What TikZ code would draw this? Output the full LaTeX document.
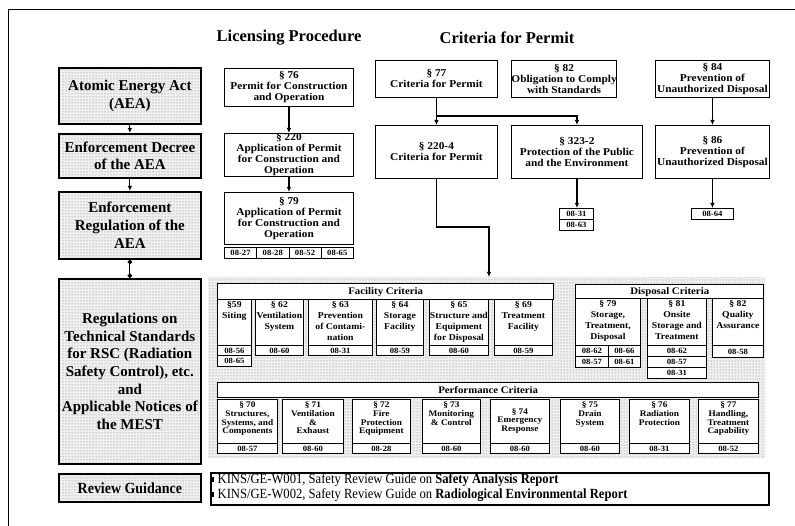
\documentclass[tikz,border=0pt]{standalone}
\usepackage{fontspec}
\setmainfont{Liberation Serif}
\newfontfamily\boxfamily{Liberation Serif}[FakeStretch=1.08]
\newfontfamily\narrowfamily{Liberation Serif}[FakeStretch=0.9]
\usetikzlibrary{patterns,arrows.meta}

\tikzset{
  stipple/.style={preaction={fill=black!6}, pattern=dots, pattern color=black!55},
  levelbox/.style={draw, line width=1.7pt, stipple, align=center,
    font=\bfseries\fontsize{15}{17.7}\selectfont},
  guidebox/.style={levelbox, font=\narrowfamily\bfseries\fontsize{15.5}{17}\selectfont},
  lawbox/.style={draw, line width=0.9pt, fill=white, align=center,
    font=\boxfamily\bfseries\fontsize{10.5}{11}\selectfont},
  codebox/.style={draw, line width=0.8pt, fill=white,
    font=\boxfamily\bfseries\fontsize{8}{8}\selectfont},
  headbar/.style={draw, line width=1.4pt, fill=white,
    font=\boxfamily\bfseries\fontsize{10}{10}\selectfont},
  critbox/.style={draw, line width=0.8pt, fill=white},
  crittext/.style={align=center, inner sep=0pt,
    font=\boxfamily\bfseries\fontsize{9}{10.8}\selectfont},
  perftext/.style={align=center, inner sep=0pt,
    font=\boxfamily\bfseries\fontsize{8.6}{8.8}\selectfont},
  arr/.style={line width=1.1pt, -{Latex[length=5pt,width=4.5pt]}},
  heading/.style={font=\bfseries\fontsize{16.5}{18}\selectfont, inner sep=0pt},
}

% box from (x1,y1) to (x2,y2), text centred
\newcommand\mkbox[7]{%
  \node[#6, anchor=north west, inner sep=0pt,
        minimum width={#4-#2}, minimum height={#5-#3}] (#1) at (#2,#3) {#7};}
% box from (x1,y1) to (x2,y2), text hung from the top edge
\newcommand\mktbox[8]{%
  \node[#6, anchor=north west, inner sep=0pt,
        minimum width={#4-#2}, minimum height={#5-#3}] (#1) at (#2,#3) {};
  \node[#7, anchor=north] (#1-t) at ([yshift=-2.5pt]#1.north) {#8};}

\begin{document}
\begin{tikzpicture}[x=1pt,y=-1pt]
\useasboundingbox (0,0) rectangle (795,526);
\fill[white] (0,0) rectangle (795,526);
\draw[line width=1pt] (8,526) -- (8,10) -- (795,10);

% column headings
\node[heading] (hlic) at (289,38) {Licensing Procedure};
\node[heading] (hcrit) at (507,38) {Criteria for Permit};

% legal hierarchy
\mkbox{aea}{58}{67}{200}{123}{levelbox}{Atomic Energy Act\\(AEA)}
\mkbox{dec}{58}{133}{200}{177}{levelbox}{Enforcement Decree\\of the AEA}
\mkbox{rega}{58}{191}{200}{258}{levelbox}{Enforcement\\Regulation of the\\AEA}
\mkbox{rules}{58}{278}{200}{463}{levelbox}{Regulations on\\Technical Standards\\for RSC (Radiation\\Safety Control), etc.\\and\\Applicable Notices of\\the MEST}
\mkbox{rg}{58}{473}{200}{501}{guidebox}{Review Guidance}

\draw[arr] (aea) -- (dec);
\draw[arr] (dec) -- (rega);
\draw[line width=1.1pt, {Circle[length=4.5pt]}-{Circle[length=4.5pt]}] (rega) -- (rules);

% licensing procedure
\mkbox{n76}{224}{68}{353}{106}{lawbox}{§ 76\\Permit for Construction\\and Operation}
\mkbox{n220}{224}{133}{353}{176}{lawbox}{§ 220\\Application of Permit\\for Construction and\\Operation}
\mkbox{n79}{224}{192}{353}{244}{lawbox}{§ 79\\Application of Permit\\for Construction and\\Operation}
\mkbox{lc1}{224}{247}{256.25}{258}{codebox}{08-27}
\mkbox{lc2}{256.25}{247}{288.5}{258}{codebox}{08-28}
\mkbox{lc3}{288.5}{247}{320.75}{258}{codebox}{08-52}
\mkbox{lc4}{320.75}{247}{353}{258}{codebox}{08-65}
\draw[arr] (n76) -- (n220);
\draw[arr] (n220) -- (n79);

% criteria for permit
\mkbox{n77}{375}{60}{497}{97}{lawbox}{§ 77\\Criteria for Permit}
\mkbox{n82}{511}{60}{612}{97}{lawbox}{§ 82\\Obligation to Comply\\with Standards}
\mkbox{n84}{655}{60}{769}{97}{lawbox}{§ 84\\Prevention of\\Unauthorized Disposal}
\mkbox{n2204}{375}{125}{497}{178}{lawbox}{§ 220-4\\Criteria for Permit}
\mkbox{n3232}{511}{125}{642}{178}{lawbox}{§ 323-2\\Protection of the Public\\and the Environment}
\mkbox{n86}{655}{125}{769}{178}{lawbox}{§ 86\\Prevention of\\Unauthorized Disposal}
\mkbox{pc31}{559}{208}{593}{219}{codebox}{08-31}
\mkbox{pc63}{559}{219}{593}{230}{codebox}{08-63}
\mkbox{pc64}{691}{208}{733}{219}{codebox}{08-64}

\coordinate (j1) at (436,116);
\draw[arr] (n77) -- (n2204);
\draw[arr] (j1) -| (n3232.north);
\draw[arr] (n84) -- (n86);
\draw[arr] (n3232.south) -- (n3232.south |- pc31.north);
\draw[arr] (n86.south) -- (n86.south |- pc64.north);

% technical standards area
\node[stipple, anchor=north west, inner sep=0pt, minimum width=557, minimum height=181] (area) at (208,277) {};
\coordinate (k1) at (489,227);
\draw[arr] (n2204.south) |- (k1) -- (k1 |- area.north);

% facility criteria
\mkbox{fhead}{217}{283}{553}{299}{headbar}{Facility Criteria}
\mktbox{f59}{217}{299}{251}{345}{critbox}{crittext}{§59\\Siting}
\mktbox{f62}{255}{299}{303}{345}{critbox}{crittext}{§ 62\\Ventilation\\System}
\mktbox{f63}{308}{299}{372}{345}{critbox}{crittext}{§ 63\\Prevention\\of Contami-\\nation}
\mktbox{f64}{376}{299}{423}{345}{critbox}{crittext}{§ 64\\Storage\\Facility}
\mktbox{f65}{429}{299}{488}{345}{critbox}{crittext}{§ 65\\Structure and\\Equipment\\for Disposal}
\mktbox{f69}{494}{299}{552}{345}{critbox}{crittext}{§ 69\\Treatment\\Facility}
\mkbox{fc59a}{217}{345}{251}{355}{codebox}{08-56}
\mkbox{fc59b}{217}{355}{251}{366}{codebox}{08-65}
\mkbox{fc62}{255}{345}{303}{355}{codebox}{08-60}
\mkbox{fc63}{308}{345}{372}{355}{codebox}{08-31}
\mkbox{fc64}{376}{345}{423}{355}{codebox}{08-59}
\mkbox{fc65}{429}{345}{488}{355}{codebox}{08-60}
\mkbox{fc69}{494}{345}{552}{355}{codebox}{08-59}

% disposal criteria
\mkbox{dhead}{575}{284}{763}{298}{headbar}{Disposal Criteria}
\mktbox{d79}{575}{298}{640}{345}{critbox}{crittext}{§ 79\\Storage,\\Treatment,\\Disposal}
\mktbox{d81}{647}{298}{706}{345}{critbox}{crittext}{§ 81\\Onsite\\Storage and\\Treatment}
\mktbox{d82}{712}{298}{763}{345}{critbox}{crittext}{§ 82\\Quality\\Assurance}
\mkbox{dc1}{575}{345}{608}{356}{codebox}{08-62}
\mkbox{dc2}{608}{345}{640}{356}{codebox}{08-66}
\mkbox{dc3}{575}{356}{608}{367}{codebox}{08-57}
\mkbox{dc4}{608}{356}{640}{367}{codebox}{08-61}
\mkbox{dc5}{647}{345}{706}{356}{codebox}{08-62}
\mkbox{dc6}{647}{356}{706}{367}{codebox}{08-57}
\mkbox{dc7}{647}{367}{706}{378}{codebox}{08-31}
\mkbox{dc8}{712}{345}{763}{357}{codebox}{08-58}

% performance criteria
\mkbox{phead}{217}{382}{758}{397}{headbar}{Performance Criteria}
\mktbox{p70}{217}{399}{277}{443}{critbox}{perftext}{§ 70\\Structures,\\Systems, and\\Components}
\mktbox{p71}{282}{399}{343}{443}{critbox}{perftext}{§ 71\\Ventilation\\\&\\Exhaust}
\mktbox{p72}{352}{399}{410}{443}{critbox}{perftext}{§ 72\\Fire\\Protection\\Equipment}
\mktbox{p73}{422}{399}{480}{443}{critbox}{perftext}{§ 73\\Monitoring\\\& Control}
\mkbox{p74}{490}{399}{549}{443}{critbox}{}
\node[perftext, anchor=north] (p74-t) at ([yshift=-9pt]p74.north) {§ 74\\Emergency\\Response};
\mktbox{p75}{560}{399}{619}{443}{critbox}{perftext}{§ 75\\Drain\\System}
\mktbox{p76}{629}{399}{689}{443}{critbox}{perftext}{§ 76\\Radiation\\Protection}
\mktbox{p77}{698}{399}{758}{443}{critbox}{perftext}{§ 77\\Handling,\\Treatment\\Capability}
\mkbox{pc70}{217}{443}{277}{453}{codebox}{08-57}
\mkbox{pc71}{282}{443}{343}{453}{codebox}{08-60}
\mkbox{pc72}{352}{443}{410}{453}{codebox}{08-28}
\mkbox{pc73}{422}{443}{480}{453}{codebox}{08-60}
\mkbox{pc74}{490}{443}{549}{453}{codebox}{08-60}
\mkbox{pc75}{560}{443}{619}{453}{codebox}{08-60}
\mkbox{pc76}{629}{443}{689}{453}{codebox}{08-31}
\mkbox{pc77}{698}{443}{758}{453}{codebox}{08-52}

% review guides
\mkbox{kins}{210}{472}{768}{504}{draw, line width=1.5pt, fill=white}{}
\node[anchor=north west, align=left, inner sep=0pt,
      font=\narrowfamily\fontsize{14}{15}\selectfont] (kinst) at (211,473.5)
  {\rule[1.5pt]{2.5pt}{5.5pt}\hspace{4pt}KINS/GE-W001, Safety Review Guide on \textbf{Safety Analysis Report}\\
   \rule[1.5pt]{2.5pt}{5.5pt}\hspace{4pt}KINS/GE-W002, Safety Review Guide on \textbf{Radiological Environmental Report}};
\end{tikzpicture}
\end{document}
